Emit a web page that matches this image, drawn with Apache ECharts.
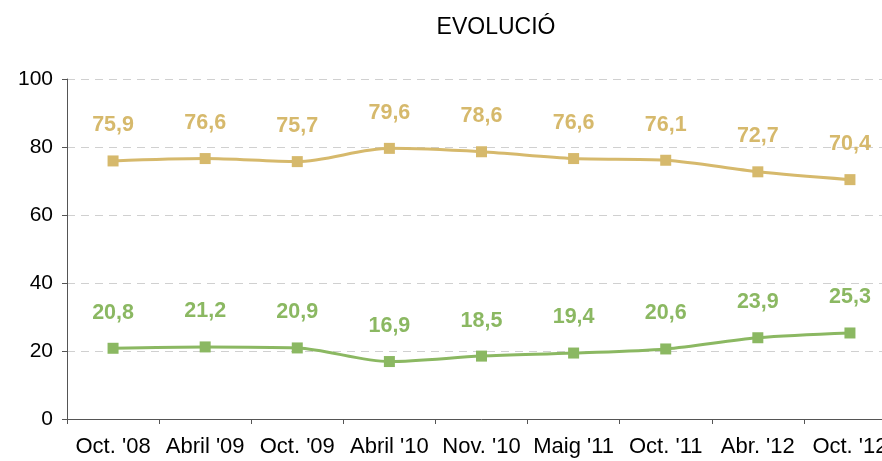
<!DOCTYPE html>
<html>
<head>
<meta charset="utf-8">
<script src="https://cdn.jsdelivr.net/npm/echarts@6/dist/echarts.min.js"></script>
<style>
  html, body { margin: 0; padding: 0; background: #fff; overflow: hidden; }
  #chart { width: 900px; height: 461px; }
</style>
</head>
<body>
<div id="chart"></div>
<script>
const categories = ["Oct. '08", "Abril '09", "Oct. '09", "Abril '10", "Nov. '10", "Maig '11", "Oct. '11", "Abr. '12", "Oct. '12"]
const upperValues = [75.9, 76.6, 75.7, 79.6, 78.6, 76.6, 76.1, 72.7, 70.4]
const lowerValues = [20.8, 21.2, 20.9, 16.9, 18.5, 19.4, 20.6, 23.9, 25.3]

const gold = '#d6b96c'
const green = '#8bb862'
const font = 'Liberation Sans, Arial, sans-serif'

const fmt = (v) => String(v).replace('.', ',')

// canvas is a bit wider than the window so the last band runs off the right edge
const chart = echarts.init(document.getElementById('chart'))

const makeSeries = (data, color) => ({
  type: 'line',
  data,
  smooth: 0.3,
  symbol: 'rect',
  symbolSize: 11,
  lineStyle: { color, width: 3 },
  itemStyle: { color },
  label: {
    show: true,
    position: 'top',
    distance: 19,
    color,
    fontFamily: font,
    fontSize: 21.5,
    fontWeight: 'bold',
    formatter: (p) => fmt(p.value)
  }
})

chart.setOption({
  animation: false,
  title: {
    text: 'EVOLUCIÓ',
    left: 491,
    top: 11,
    textAlign: 'center',
    textStyle: { fontFamily: font, fontSize: 23, fontWeight: 'normal', color: '#000' }
  },
  grid: { left: 67, right: 4, top: 79, bottom: 42, outerBoundsMode: 'none' },
  xAxis: {
    type: 'category',
    data: categories,
    boundaryGap: true,
    axisLine: { lineStyle: { color: '#555', width: 1 } },
    axisTick: { show: true, length: 5, lineStyle: { color: '#555' } },
    axisLabel: { color: '#000', fontFamily: font, fontSize: 22, margin: 17, interval: 0 }
  },
  yAxis: {
    type: 'value',
    min: 0,
    max: 100,
    interval: 20,
    axisLine: { show: true, lineStyle: { color: '#555', width: 1 } },
    axisTick: { show: true, length: 5, lineStyle: { color: '#555' } },
    axisLabel: { color: '#000', fontFamily: font, fontSize: 21, margin: 14 },
    splitLine: { lineStyle: { color: '#d0d0d0', type: [8, 6] } }
  },
  series: [makeSeries(upperValues, gold), makeSeries(lowerValues, green)]
})
</script>
</body>
</html>
